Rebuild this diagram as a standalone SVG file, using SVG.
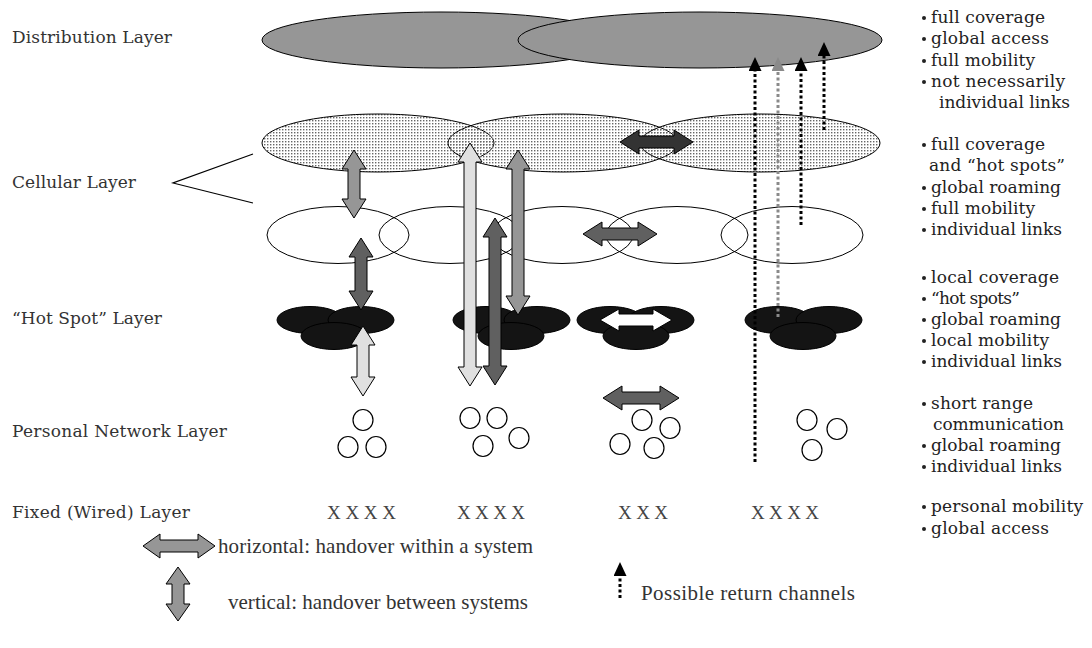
<svg xmlns="http://www.w3.org/2000/svg" width="1092" height="648" viewBox="0 0 1092 648">
<style>
.lbl{font-family:"DejaVu Serif","Liberation Serif",serif;font-size:17px;fill:#333}
.rt{font-family:"DejaVu Serif","Liberation Serif",serif;font-size:17px;fill:#222}
.lg{font-family:"Liberation Serif","DejaVu Serif",serif;font-size:21px;fill:#333}
.xx{font-family:"Liberation Serif","DejaVu Serif",serif;font-size:19px;fill:#444}
.dist{fill:#969696;stroke:#000;stroke-width:1}
.cell{fill:url(#stip);stroke:#000;stroke-width:1}
.wcell{fill:none;stroke:#000;stroke-width:1}
.hs{fill:#141414;stroke:#000;stroke-width:1}
.pn{fill:#fff;stroke:#000;stroke-width:1.2}
.ar{stroke:#000;stroke-width:1;stroke-linejoin:miter}
.g1{fill:#969696}.g2{fill:#606060}.g3{fill:#e0e0e0}.g4{fill:#333}.g5{fill:#fff}
.dk{stroke:#000;stroke-width:3;stroke-dasharray:3 2.5;fill:none}
.dg{stroke:#8a8a8a;stroke-width:3;stroke-dasharray:3 2.5;fill:none}
.bl{fill:#222}
</style>
<defs>
<pattern id="stip" width="3" height="3" patternUnits="userSpaceOnUse">
<rect x="0" y="0" width="1.4" height="1.4" fill="#666"/>
</pattern>
<marker id="mk" viewBox="0 0 14 13" refX="0" refY="6.5" markerWidth="14" markerHeight="13" markerUnits="userSpaceOnUse" orient="auto">
<path d="M0,0 L14,6.5 L0,13 z" fill="#000"/>
</marker>
<marker id="mg" viewBox="0 0 14 13" refX="0" refY="6.5" markerWidth="14" markerHeight="13" markerUnits="userSpaceOnUse" orient="auto">
<path d="M0,0 L14,6.5 L0,13 z" fill="#8a8a8a"/>
</marker>
</defs>
<rect width="1092" height="648" fill="#fff"/>

<g id="labels">
<text class="lbl" x="12" y="43" textLength="160">Distribution Layer</text>
<text class="lbl" x="12" y="188" textLength="124">Cellular Layer</text>
<text class="lbl" x="12" y="324" textLength="150">“Hot Spot” Layer</text>
<text class="lbl" x="12" y="437" textLength="215">Personal Network Layer</text>
<text class="lbl" x="12" y="518" textLength="178">Fixed (Wired) Layer</text>
</g>
<g id="bracket"><polyline points="253,154 173,183 253,203" fill="none" stroke="#000" stroke-width="1.2"/></g>

<g id="distribution-layer">
<ellipse class="dist" cx="441" cy="40" rx="179" ry="28"/>
<ellipse class="dist" cx="700" cy="40" rx="182" ry="28"/>
</g>

<g id="cellular-upper">
<ellipse class="cell" cx="378" cy="143" rx="116" ry="29"/>
<ellipse class="cell" cx="563" cy="143" rx="115" ry="29"/>
<ellipse class="cell" cx="760" cy="143" rx="120" ry="29"/>
</g>

<g id="cellular-lower">
<ellipse class="wcell" cx="338" cy="235" rx="71" ry="28.5"/>
<ellipse class="wcell" cx="450" cy="235" rx="71" ry="28.5"/>
<ellipse class="wcell" cx="562" cy="235" rx="71" ry="28.5"/>
<ellipse class="wcell" cx="677" cy="235" rx="71" ry="28.5"/>
<ellipse class="wcell" cx="792" cy="235" rx="71" ry="28.5"/>
</g>

<g id="hotspot-1">
<ellipse class="hs" cx="310" cy="320" rx="33" ry="13.5"/>
<ellipse class="hs" cx="361" cy="320" rx="33" ry="13.5"/>
<ellipse class="hs" cx="334" cy="336" rx="33" ry="13.5"/>
</g>
<g id="hotspot-2">
<ellipse class="hs" cx="486" cy="320" rx="33" ry="13.5"/>
<ellipse class="hs" cx="537" cy="320" rx="33" ry="13.5"/>
<ellipse class="hs" cx="511" cy="336" rx="33" ry="13.5"/>
</g>
<g id="hotspot-3">
<ellipse class="hs" cx="610" cy="320" rx="33" ry="13.5"/>
<ellipse class="hs" cx="661" cy="320" rx="33" ry="13.5"/>
<ellipse class="hs" cx="636" cy="336" rx="33" ry="13.5"/>
</g>
<g id="hotspot-4">
<ellipse class="hs" cx="778" cy="320" rx="33" ry="13.5"/>
<ellipse class="hs" cx="829" cy="320" rx="33" ry="13.5"/>
<ellipse class="hs" cx="803" cy="336" rx="33" ry="13.5"/>
</g>

<g id="personal-1">
<ellipse class="pn" cx="363" cy="420" rx="10" ry="10.5"/>
<ellipse class="pn" cx="348" cy="447" rx="10" ry="10.5"/>
<ellipse class="pn" cx="376" cy="447" rx="10" ry="10.5"/>
</g>
<g id="personal-2">
<ellipse class="pn" cx="470" cy="418" rx="10" ry="10.5"/>
<ellipse class="pn" cx="497" cy="418" rx="10" ry="10.5"/>
<ellipse class="pn" cx="519" cy="438" rx="10" ry="10.5"/>
<ellipse class="pn" cx="483" cy="446" rx="10" ry="10.5"/>
</g>
<g id="personal-3">
<ellipse class="pn" cx="642" cy="420" rx="10" ry="10.5"/>
<ellipse class="pn" cx="670" cy="428" rx="10" ry="10.5"/>
<ellipse class="pn" cx="620" cy="444" rx="10" ry="10.5"/>
<ellipse class="pn" cx="654" cy="448" rx="10" ry="10.5"/>
</g>
<g id="personal-4">
<ellipse class="pn" cx="807" cy="420" rx="10" ry="10.5"/>
<ellipse class="pn" cx="837" cy="429" rx="10" ry="10.5"/>
<ellipse class="pn" cx="812" cy="450" rx="10" ry="10.5"/>
</g>

<g id="fixed-layer">
<text class="xx" x="327" y="519" textLength="69">X X X X</text>
<text class="xx" x="457" y="519" textLength="68">X X X X</text>
<text class="xx" x="618" y="519" textLength="50">X X X</text>
<text class="xx" x="751" y="519" textLength="68">X X X X</text>
</g>

<g id="connectors">
<polygon class="ar g1" points="354,150 366,169 360,169 360,199 366,199 354,218 342,199 348,199 348,169 342,169"/>
<polygon class="ar g2" points="361,238 373,257 367,257 367,291 373,291 361,310 349,291 355,291 355,257 349,257"/>
<polygon class="ar g3" points="363,326 375,345 369,345 369,377 375,377 363,396 351,377 357,377 357,345 351,345"/>
<polygon class="ar g3" points="470,143 482,162 476,162 476,367 482,367 470,386 458,367 464,367 464,162 458,162"/>
<polygon class="ar g2" points="495,218 507,237 501,237 501,366 507,366 495,385 483,366 489,366 489,237 483,237"/>
<polygon class="ar g1" points="518,150 530,169 524,169 524,296 530,296 518,315 506,296 512,296 512,169 506,169"/>
<polygon class="ar g4" points="620,142 639,130 639,136 674,136 674,130 693,142 674,154 674,148 639,148 639,154"/>
<polygon class="ar g2" points="583,234 602,222 602,228 638,228 638,222 657,234 638,246 638,240 602,240 602,246"/>
<polygon class="ar g5" points="600,320 619,309 619,314 653,314 653,309 672,320 653,331 653,326 619,326 619,331"/>
<polygon class="ar g2" points="603,398 622,386 622,392 660,392 660,386 679,398 660,410 660,404 622,404 622,410"/>
<line class="dk" x1="755" y1="462" x2="755" y2="71" marker-end="url(#mk)"/>
<line class="dg" x1="778" y1="317" x2="778" y2="71" marker-end="url(#mg)"/>
<line class="dk" x1="801" y1="225" x2="801" y2="71" marker-end="url(#mk)"/>
<line class="dk" x1="824" y1="130" x2="824" y2="56" marker-end="url(#mk)"/>
</g>

<g id="properties">
<circle class="bl" cx="924" cy="18" r="2"/><text class="rt" x="931" y="23" textLength="114">full coverage</text>
<circle class="bl" cx="924" cy="39" r="2"/><text class="rt" x="931" y="44" textLength="118">global access</text>
<circle class="bl" cx="924" cy="61" r="2"/><text class="rt" x="931" y="66" textLength="104">full mobility</text>
<circle class="bl" cx="924" cy="82" r="2"/><text class="rt" x="931" y="87" textLength="134">not necessarily</text>
<text class="rt" x="939" y="108" textLength="131">individual links</text>

<circle class="bl" cx="924" cy="145" r="2"/><text class="rt" x="931" y="150" textLength="114">full coverage</text>
<text class="rt" x="929" y="171" textLength="136">and “hot spots”</text>
<circle class="bl" cx="924" cy="188" r="2"/><text class="rt" x="931" y="193" textLength="130">global roaming</text>
<circle class="bl" cx="924" cy="209" r="2"/><text class="rt" x="931" y="214" textLength="104">full mobility</text>
<circle class="bl" cx="924" cy="230" r="2"/><text class="rt" x="931" y="235" textLength="131">individual links</text>

<circle class="bl" cx="924" cy="278" r="2"/><text class="rt" x="931" y="283" textLength="128">local coverage</text>
<circle class="bl" cx="924" cy="299" r="2"/><text class="rt" x="931" y="304" textLength="89">“hot spots”</text>
<circle class="bl" cx="924" cy="320" r="2"/><text class="rt" x="931" y="325" textLength="130">global roaming</text>
<circle class="bl" cx="924" cy="341" r="2"/><text class="rt" x="931" y="346" textLength="118">local mobility</text>
<circle class="bl" cx="924" cy="362" r="2"/><text class="rt" x="931" y="367" textLength="131">individual links</text>

<circle class="bl" cx="924" cy="404" r="2"/><text class="rt" x="931" y="409" textLength="102">short range</text>
<text class="rt" x="933" y="430" textLength="131">communication</text>
<circle class="bl" cx="924" cy="446" r="2"/><text class="rt" x="931" y="451" textLength="130">global roaming</text>
<circle class="bl" cx="924" cy="467" r="2"/><text class="rt" x="931" y="472" textLength="131">individual links</text>

<circle class="bl" cx="924" cy="507" r="2"/><text class="rt" x="931" y="512" textLength="152">personal mobility</text>
<circle class="bl" cx="924" cy="529" r="2"/><text class="rt" x="931" y="534" textLength="118">global access</text>
</g>

<g id="legend">
<polygon class="ar g1" points="143,546 160,534 160,540 198,540 198,534 215,546 198,558 198,552 160,552 160,558"/>
<text class="lg" x="218" y="553" textLength="315">horizontal: handover within a system</text>
<polygon class="ar g1" points="178,567 190,584 184,584 184,604 190,604 178,621 166,604 172,604 172,584 166,584"/>
<text class="lg" x="228" y="609" textLength="300">vertical: handover between systems</text>
<line class="dk" x1="620" y1="598" x2="620" y2="576" marker-end="url(#mk)"/>
<text class="lg" x="641" y="600" textLength="214">Possible return channels</text>
</g>
</svg>
